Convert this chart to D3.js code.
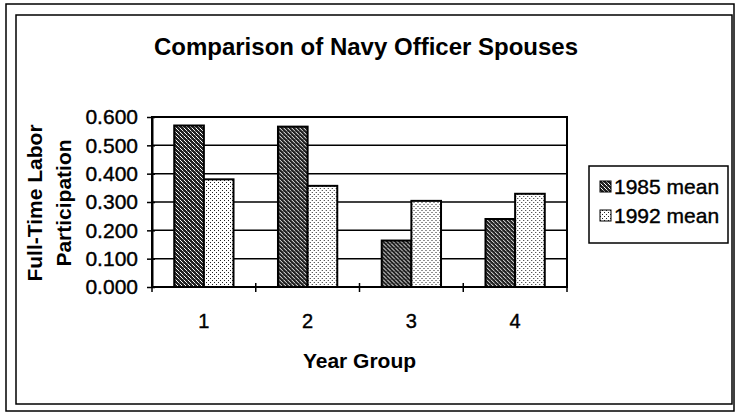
<!DOCTYPE html>
<html>
<head>
	<meta charset="utf-8">
	<title>Comparison of Navy Officer Spouses</title>
	<script type="text/javascript" src="https://d3js.org/d3.v7.min.js"></script>
	<style>
		body { margin: 0; background: #fff; }
		text { font-family: "Liberation Sans", Arial, sans-serif; fill: #000; }
		.heavy { stroke: #000; stroke-width: 0.4px; }
	</style>
</head>
<body>
	<div id="chart"></div>
	<script>
	// data
	var categories = ["1", "2", "3", "4"];
	var seriesNames = ["1985 mean", "1992 mean"];
	var mean1985 = [0.570, 0.566, 0.164, 0.240];
	var mean1992 = [0.380, 0.357, 0.304, 0.329];
	var yTicks = [0, 0.1, 0.2, 0.3, 0.4, 0.5, 0.6];

	var width = 735;
	var height = 415;
	var plot = {left: 152, right: 567, top: 117, bottom: 287};

	var svg = d3.select("#chart")
				.append("svg")
					.attr("width", width)
					.attr("height", height);

	// fill patterns
	var defs = svg.append("defs");
	var p1 = defs.append("pattern")
		.attr("id", "pat1985")
		.attr("patternUnits", "userSpaceOnUse")
		.attr("width", 4).attr("height", 4);
	p1.append("rect").attr("width", 4).attr("height", 4).attr("fill", "#222");
	p1.append("rect").attr("x", 0).attr("y", 0).attr("width", 1).attr("height", 1).attr("fill", "#fff");
	p1.append("rect").attr("x", 1).attr("y", 1).attr("width", 1).attr("height", 1).attr("fill", "#fff");
	p1.append("rect").attr("x", 2).attr("y", 2).attr("width", 1).attr("height", 1).attr("fill", "#eee");
	p1.append("rect").attr("x", 3).attr("y", 3).attr("width", 1).attr("height", 1).attr("fill", "#999");

	var p2 = defs.append("pattern")
		.attr("id", "pat1992")
		.attr("patternUnits", "userSpaceOnUse")
		.attr("width", 4).attr("height", 4);
	p2.append("rect").attr("width", 4).attr("height", 4).attr("fill", "#fff");
	p2.append("rect").attr("x", 0).attr("y", 0).attr("width", 1).attr("height", 1).attr("fill", "#222");
	p2.append("rect").attr("x", 2).attr("y", 2).attr("width", 1).attr("height", 1).attr("fill", "#222");

	var fills = {"1985 mean": "url(#pat1985)", "1992 mean": "url(#pat1992)"};

	// double frame
	svg.append("rect").attr("x", 6).attr("y", 4).attr("width", 728).attr("height", 407)
		.attr("fill", "none").attr("stroke", "#000").attr("stroke-width", 1.5);
	svg.append("rect").attr("x", 16).attr("y", 15).attr("width", 716).attr("height", 389)
		.attr("fill", "none").attr("stroke", "#000").attr("stroke-width", 1.5);

	// title
	svg.append("text")
		.attr("x", 366).attr("y", 55)
		.attr("text-anchor", "middle")
		.style("font-size", "24px").style("font-weight", "bold")
		.text("Comparison of Navy Officer Spouses");

	// scales
	var x = d3.scaleBand()
		.domain(categories)
		.range([plot.left, plot.right])
		.paddingInner(0).paddingOuter(0);

	var x1 = d3.scaleBand()
		.domain(seriesNames)
		.range([0, x.bandwidth()])
		.paddingInner(0).paddingOuter(0.75);

	var y = d3.scaleLinear()
		.domain([0, 0.6])
		.range([plot.bottom, plot.top]);

	// gridlines
	svg.append("g").selectAll("line")
		.data(yTicks.slice(1))
		.enter().append("line")
		.attr("x1", plot.left).attr("x2", plot.right)
		.attr("y1", function(d){ return y(d); })
		.attr("y2", function(d){ return y(d); })
		.attr("stroke", "#000").attr("stroke-width", 1.5);

	// plot area border
	svg.append("rect")
		.attr("x", plot.left).attr("y", plot.top)
		.attr("width", plot.right - plot.left).attr("height", plot.bottom - plot.top)
		.attr("fill", "none").attr("stroke", "#000").attr("stroke-width", 2);

	// bars
	var table = categories.map(function(c, i){
		return {cat: c, values: [
			{name: seriesNames[0], value: mean1985[i]},
			{name: seriesNames[1], value: mean1992[i]}
		]};
	});

	svg.append("g").selectAll("g")
		.data(table)
		.enter().append("g")
		.attr("transform", function(d){ return "translate(" + x(d.cat) + ",0)"; })
		.selectAll("rect")
		.data(function(d){ return d.values; })
		.enter().append("rect")
		.attr("x", function(d){ return x1(d.name); })
		.attr("y", function(d){ return y(d.value); })
		.attr("width", x1.bandwidth())
		.attr("height", function(d){ return y(0) - y(d.value); })
		.attr("fill", function(d){ return fills[d.name]; })
		.attr("stroke", "#000").attr("stroke-width", 2);

	// y axis
	var yAxis = d3.axisLeft(y)
		.tickValues(yTicks)
		.tickFormat(d3.format(".3f"))
		.tickSizeInner(5).tickSizeOuter(0).tickPadding(9);
	var gy = svg.append("g")
		.attr("transform", "translate(" + plot.left + ",0)")
		.call(yAxis);
	gy.select(".domain").attr("stroke", "#000").attr("stroke-width", 2);
	gy.selectAll(".tick line").attr("stroke", "#000").attr("stroke-width", 1.5).attr("x2", 3).attr("x1", -5);
	gy.selectAll(".tick text")
		.attr("class", "heavy")
		.style("font-size", "21px").style("font-family", "'Liberation Sans', Arial, sans-serif");

	// x axis with ticks on category boundaries
	var gx = svg.append("g")
		.attr("transform", "translate(0," + plot.bottom + ")");
	gx.append("line")
		.attr("x1", plot.left).attr("x2", plot.right)
		.attr("stroke", "#000").attr("stroke-width", 2);
	var bounds = categories.map(function(c){ return x(c); }).concat([plot.right]);
	gx.selectAll(".bt")
		.data(bounds)
		.enter().append("line")
		.attr("x1", function(d){ return d; }).attr("x2", function(d){ return d; })
		.attr("y1", -4).attr("y2", 5)
		.attr("stroke", "#000").attr("stroke-width", 1.5);
	gx.selectAll(".lbl")
		.data(categories)
		.enter().append("text")
		.attr("x", function(d){ return x(d) + x.bandwidth() / 2; })
		.attr("y", 41)
		.attr("text-anchor", "middle")
		.attr("class", "heavy")
		.style("font-size", "20px")
		.text(function(d){ return d; });

	// axis titles
	svg.append("text")
		.attr("x", (plot.left + plot.right) / 2).attr("y", 368)
		.attr("text-anchor", "middle")
		.style("font-size", "21px").style("font-weight", "bold")
		.text("Year Group");

	var yt = svg.append("text")
		.attr("transform", "translate(0,203) rotate(-90)")
		.attr("text-anchor", "middle")
		.style("font-size", "21px").style("font-weight", "bold");
	yt.append("tspan").attr("x", 0).attr("y", 42).text("Full-Time Labor");
	yt.append("tspan").attr("x", 0).attr("y", 71).text("Participation");

	// legend
	var lg = svg.append("g").attr("transform", "translate(589,166)");
	lg.append("rect").attr("width", 139).attr("height", 77)
		.attr("fill", "#fff").attr("stroke", "#000").attr("stroke-width", 1.5);
	var items = lg.selectAll(".item")
		.data(seriesNames)
		.enter().append("g")
		.attr("transform", function(d, i){ return "translate(11," + (21 + i * 29) + ")"; });
	items.append("rect")
		.attr("x", 0).attr("y", -6).attr("width", 11).attr("height", 11)
		.attr("fill", function(d){ return fills[d]; })
		.attr("stroke", "#000").attr("stroke-width", 1);
	items.append("text")
		.attr("x", 14).attr("y", 7)
		.attr("class", "heavy")
		.style("font-size", "21px")
		.text(function(d){ return d; });
	</script>
</body>
</html>
